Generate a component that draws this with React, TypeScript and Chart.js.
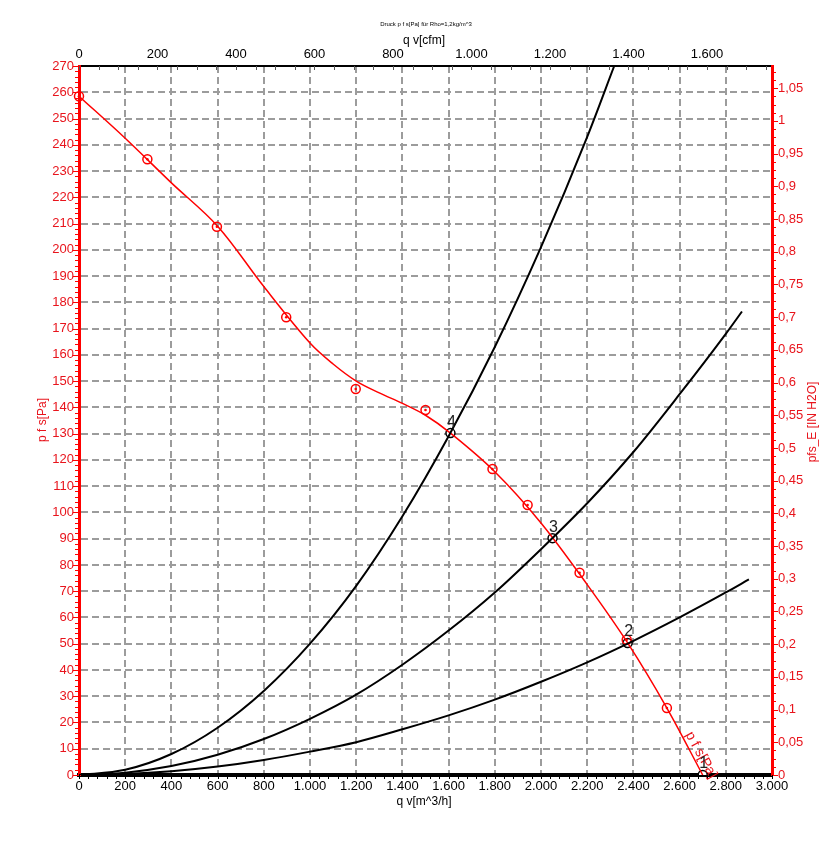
import { useEffect, useRef } from 'react';
import { Chart, registerables } from 'chart.js';

Chart.register(...registerables);

// ---- Data ----
// Fan curve p_fs [Pa] vs q_v [m^3/h] (fitted line)
const fanLineQ = [0, 200, 400, 600, 800, 1000, 1100, 1200, 1300, 1400, 1500, 1608, 1800, 2000, 2200, 2375, 2545, 2700];
const fanLineP = [258.5, 242.5, 225.5, 209, 186, 164.5, 156.5, 150, 145.5, 141.5, 137, 130.2, 115.5, 96, 72.5, 50.3, 25.5, 0];

// Measured points on the fan curve
const markerQ = [0, 296, 597, 897, 1198, 1500, 1790, 1942, 2167, 2371, 2545];
const markerP = [258.5, 234.5, 208.8, 174.3, 147, 139, 116.5, 102.8, 77, 51.5, 25.5];

// System (resistance) curves
const sysQ4 = [0, 200, 400, 600, 800, 1000, 1200, 1400, 1600, 1800, 2000, 2200, 2317];
const sysP4 = [0, 2, 8, 18, 32, 50, 72, 98.5, 129, 163, 201, 243, 270];
const sysQ3 = [0, 200, 400, 600, 800, 1000, 1200, 1400, 1600, 1800, 2000, 2200, 2400, 2600, 2800, 2870];
const sysP3 = [0, 0.9, 3.4, 7.7, 13.7, 21.4, 30.6, 42, 55, 69.5, 86, 103.5, 123, 145, 168, 176.5];
const sysQ2 = [0, 200, 400, 600, 800, 1000, 1200, 1400, 1600, 1800, 2000, 2200, 2400, 2600, 2800, 2900];
const sysP2 = [0, 0.35, 1.4, 3.2, 5.7, 8.9, 12.5, 17.4, 22.7, 28.7, 35.5, 42.9, 51.1, 60, 69.5, 74.5];

// Operating points
const opQ = [2700, 2375, 2050, 1608];
const opP = [0, 50.3, 90.2, 130.2];
const opLabels = ['1', '2', '3', '4'];

// Tick values for the secondary axes
const cfmTicks = [0, 200, 400, 600, 800, 1000, 1200, 1400, 1600];
const inH2OTicks = [0, 0.05, 0.1, 0.15, 0.2, 0.25, 0.3, 0.35, 0.4, 0.45, 0.5, 0.55, 0.6, 0.65, 0.7, 0.75, 0.8, 0.85, 0.9, 0.95, 1, 1.05];

// Axis ranges / units
const qMax = 3000;
const pMax = 270;
const M3H_PER_CFM = 1.699;
const PA_PER_INH2O = 249.089;

const toXY = (xs: number[], ys: number[]) => xs.map((x, i) => ({ x, y: ys[i] }));

const fmtThousands = (v: number) =>
  Math.round(v).toString().replace(/\B(?=(\d{3})+(?!\d))/g, '.');
const fmtDecimal = (v: number) => Number(v.toFixed(2)).toString().replace('.', ',');

const FONT = "'Liberation Sans', Arial, sans-serif";
const RED = '#ff0000';
const RED_TXT = '#e8141c';
const GRID = '#9c9c9c';

const decorPlugin = {
  id: 'decor',
  afterDraw(chart: any) {
    const { ctx, chartArea: ca, scales } = chart;
    const xs = scales.x;
    const ys = scales.y;
    const x2 = scales.x2;
    const y2 = scales.y2;
    ctx.save();
    ctx.lineWidth = 1;

    // left minor ticks
    ctx.strokeStyle = RED;
    for (let v = 0; v <= pMax + 1e-6; v += 2) {
      const y = Math.round(ys.getPixelForValue(v)) + 0.5;
      const major = Math.abs(v % 10) < 1e-6;
      ctx.beginPath();
      ctx.moveTo(ca.left - (major ? 6 : 4), y);
      ctx.lineTo(ca.left, y);
      ctx.stroke();
    }
    // right minor ticks
    for (let i = 0; i * 0.0125 <= pMax / PA_PER_INH2O + 1e-9; i++) {
      const v = i * 0.0125;
      const y = Math.round(y2.getPixelForValue(v)) + 0.5;
      const major = i % 4 === 0;
      ctx.beginPath();
      ctx.moveTo(ca.right, y);
      ctx.lineTo(ca.right + (major ? 6 : 4), y);
      ctx.stroke();
    }
    // bottom minor ticks
    ctx.strokeStyle = '#000';
    for (let v = 0; v <= qMax + 1e-6; v += 40) {
      const x = Math.round(xs.getPixelForValue(v)) + 0.5;
      ctx.beginPath();
      ctx.moveTo(x, ca.bottom);
      ctx.lineTo(x, ca.bottom + 4);
      ctx.stroke();
    }
    // top minor ticks
    ctx.strokeStyle = '#555';
    for (let v = 0; v <= qMax / M3H_PER_CFM + 1e-6; v += 50) {
      const x = Math.round(x2.getPixelForValue(v)) + 0.5;
      ctx.beginPath();
      ctx.moveTo(x, ca.top);
      ctx.lineTo(x, ca.top + 4);
      ctx.stroke();
    }

    // titles
    ctx.fillStyle = '#000';
    ctx.textAlign = 'center';
    ctx.textBaseline = 'middle';
    ctx.font = `6px ${FONT}`;
    ctx.fillText('Druck p f s[Pa] für Rho=1,2kg/m^3', 426, 24);
    ctx.font = `12px ${FONT}`;
    ctx.fillText('q v[cfm]', 424, 41);
    ctx.fillText('q v[m^3/h]', 424, 802);

    ctx.fillStyle = RED_TXT;
    ctx.save();
    ctx.translate(43, 420);
    ctx.rotate(-Math.PI / 2);
    ctx.fillText('p f s[Pa]', 0, 0);
    ctx.restore();

    ctx.save();
    ctx.translate(813, 422);
    ctx.rotate(-Math.PI / 2);
    ctx.fillText('pfs_E [IN H2O]', 0, 0);
    ctx.restore();

    // curve label along fan curve
    ctx.save();
    ctx.translate(701, 755);
    ctx.rotate((61 * Math.PI) / 180);
    ctx.font = `14px ${FONT}`;
    ctx.fillText('p f s[Pa]', 0, 0);
    ctx.restore();

    // operating point labels
    const idx = chart.data.datasets.findIndex((d: any) => d.label === 'op');
    const meta = chart.getDatasetMeta(idx);
    ctx.fillStyle = '#222';
    ctx.font = `16px ${FONT}`;
    meta.data.forEach((pt: any, i: number) => {
      ctx.fillText(opLabels[i], pt.x + 1, pt.y - 11);
    });

    ctx.restore();
  },
};

export default function App() {
  const ref = useRef<HTMLCanvasElement>(null);

  useEffect(() => {
    if (!ref.current) return;
    Chart.defaults.font.family = FONT;
    const sysStyle = {
      showLine: true,
      borderColor: '#000',
      borderWidth: 2,
      pointRadius: 0,
      cubicInterpolationMode: 'monotone' as const,
      fill: false,
    };
    const chart = new Chart(ref.current, {
      type: 'scatter',
      data: {
        datasets: [
          { label: 'sys4', data: toXY(sysQ4, sysP4), ...sysStyle },
          { label: 'sys3', data: toXY(sysQ3, sysP3), ...sysStyle },
          { label: 'sys2', data: toXY(sysQ2, sysP2), ...sysStyle },
          {
            label: 'fan',
            data: toXY(fanLineQ, fanLineP),
            showLine: true,
            borderColor: RED,
            borderWidth: 1.5,
            pointRadius: 0,
            tension: 0.35,
          },
          {
            label: 'rings',
            data: toXY(markerQ, markerP),
            pointRadius: 4.5,
            pointBorderWidth: 1.5,
            pointBorderColor: RED,
            pointBackgroundColor: 'rgba(255,255,255,0)',
            clip: false,
          },
          {
            label: 'dots',
            data: toXY(markerQ, markerP),
            pointRadius: 1.3,
            pointBorderWidth: 0,
            pointBackgroundColor: RED,
            clip: false,
          },
          {
            label: 'op',
            data: toXY(opQ, opP),
            pointRadius: 4.5,
            pointBorderWidth: 1.5,
            pointBorderColor: '#000',
            pointBackgroundColor: '#fff',
          },
        ],
      },
      options: {
        responsive: false,
        animation: false,
        devicePixelRatio: 1,
        layout: { padding: 0 },
        plugins: {
          legend: { display: false },
          tooltip: { enabled: false },
          title: { display: false },
        },
        scales: {
          x: {
            type: 'linear',
            position: 'bottom',
            min: 0,
            max: qMax,
            ticks: {
              stepSize: 200,
              autoSkip: false,
              maxRotation: 0,
              color: '#000',
              font: { size: 13 },
              padding: 4,
              callback: (v: any) => fmtThousands(Number(v)),
            },
            grid: { color: GRID, lineWidth: 2, drawTicks: false },
            border: { display: true, color: '#000', width: 4, dash: [7, 4] },
            afterFit: (s: any) => {
              s.height = 67;
            },
          },
          x2: {
            type: 'linear',
            axis: 'x',
            position: 'top',
            min: 0,
            max: qMax / M3H_PER_CFM,
            afterBuildTicks: (s: any) => {
              s.ticks = cfmTicks.map((value) => ({ value }));
            },
            ticks: {
              autoSkip: false,
              maxRotation: 0,
              color: '#000',
              font: { size: 13 },
              padding: 4,
              callback: (v: any) => fmtThousands(Number(v)),
            },
            grid: { display: false, drawTicks: false },
            border: { display: true, color: '#000', width: 2 },
            afterFit: (s: any) => {
              s.height = 66;
            },
          },
          y: {
            type: 'linear',
            position: 'left',
            min: 0,
            max: pMax,
            ticks: {
              stepSize: 10,
              autoSkip: false,
              color: RED_TXT,
              font: { size: 13 },
              padding: 5,
            },
            grid: { color: GRID, lineWidth: 2, drawTicks: false },
            border: { display: true, color: RED, width: 3, dash: [7, 4] },
            afterFit: (s: any) => {
              s.width = 79;
            },
          },
          y2: {
            type: 'linear',
            axis: 'y',
            position: 'right',
            min: 0,
            max: pMax / PA_PER_INH2O,
            afterBuildTicks: (s: any) => {
              s.ticks = inH2OTicks.map((value) => ({ value }));
            },
            ticks: {
              autoSkip: false,
              color: RED_TXT,
              font: { size: 13 },
              padding: 6,
              callback: (v: any) => fmtDecimal(Number(v)),
            },
            grid: { display: false, drawTicks: false },
            border: { display: true, color: RED, width: 3 },
            afterFit: (s: any) => {
              s.width = 68;
            },
          },
        },
      } as any,
      plugins: [decorPlugin],
    });
    return () => chart.destroy();
  }, []);

  return (
    <div style={{ position: 'absolute', left: 0, top: 0, width: 840, height: 842, background: '#fff' }}>
      <canvas ref={ref} width={840} height={842} style={{ width: 840, height: 842, display: 'block' }} />
    </div>
  );
}
